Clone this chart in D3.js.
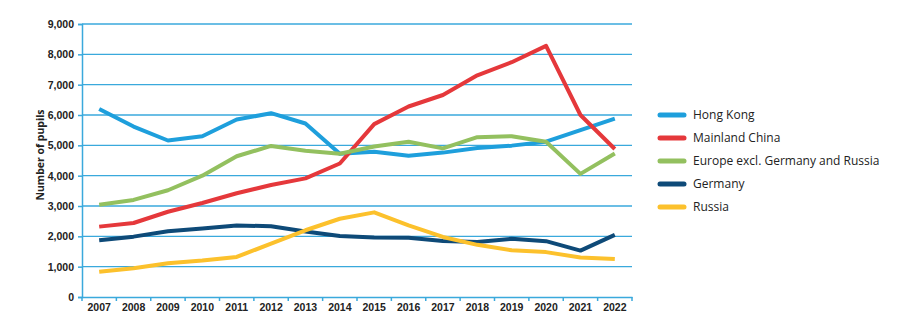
<!DOCTYPE html>
<html>
<head>
<meta charset="utf-8">
<script src="https://cdn.jsdelivr.net/npm/d3@7"></script>
<style>
  body { margin: 0; background: #fff; }
  svg { font-family: "Open Sans", "Liberation Sans", sans-serif; }
</style>
</head>
<body>
<div id="chart"></div>
<script>
// data
const years = ["2007","2008","2009","2010","2011","2012","2013","2014","2015","2016","2017","2018","2019","2020","2021","2022"];
const hongKong = [6200, 5620, 5160, 5300, 5850, 6060, 5720, 4720, 4790, 4660, 4760, 4910, 4990, 5120, 5500, 5880];
const mainlandChina = [2320, 2440, 2810, 3100, 3420, 3690, 3910, 4400, 5700, 6280, 6660, 7310, 7740, 8280, 6000, 4880];
const europe = [3040, 3200, 3520, 4000, 4640, 4980, 4820, 4720, 4960, 5120, 4900, 5270, 5300, 5120, 4060, 4730];
const germany = [1870, 1990, 2170, 2260, 2360, 2330, 2160, 2010, 1960, 1950, 1850, 1810, 1920, 1840, 1530, 2050];
const russia = [830, 950, 1110, 1200, 1320, 1760, 2200, 2580, 2790, 2360, 1980, 1720, 1540, 1480, 1300, 1250];
const seriesNames = ["Hong Kong", "Mainland China", "Europe excl. Germany and Russia", "Germany", "Russia"];
const seriesColors = ["#1e9fdc", "#e5383b", "#93c05f", "#0e4a78", "#fcc12c"];
const yTicks = [0, 1000, 2000, 3000, 4000, 5000, 6000, 7000, 8000, 9000];

const allSeries = [hongKong, mainlandChina, europe, germany, russia];

const margin = { top: 24, right: 268, bottom: 28, left: 82 },
  width = 900 - margin.left - margin.right,
  height = 325 - margin.top - margin.bottom;

const svg = d3.select("#chart")
  .append("svg")
  .attr("width", 900)
  .attr("height", 325)
  .append("g")
  .attr("transform", `translate(${margin.left},${margin.top})`);

const axisBlue = "#3aa9dc";

const x = d3.scaleBand().domain(years).range([0, width]).padding(0);
const y = d3.scaleLinear().domain([0, 9000]).range([height, 0]);

// gridlines
svg.append("g")
  .selectAll("line")
  .data(yTicks.filter(d => d > 0))
  .join("line")
  .attr("x1", 0)
  .attr("x2", width)
  .attr("y1", d => y(d))
  .attr("y2", d => y(d))
  .attr("stroke", axisBlue)
  .attr("stroke-width", 1.3);

// y axis
const yAxis = svg.append("g")
  .call(d3.axisLeft(y).tickValues(yTicks).tickFormat(d3.format(",")).tickSize(4).tickPadding(4));
yAxis.select(".domain").attr("stroke", axisBlue).attr("stroke-width", 1.5);
yAxis.selectAll(".tick line").attr("stroke", axisBlue).attr("stroke-width", 1.5);
yAxis.selectAll("text")
  .attr("font-size", 10.5)
  .attr("font-weight", "bold")
  .attr("fill", "#222");

// x axis, ticks between years
const xAxis = svg.append("g")
  .attr("transform", `translate(0,${height})`)
  .call(d3.axisBottom(x).tickSize(0).tickPadding(7));
xAxis.select(".domain").attr("stroke", axisBlue).attr("stroke-width", 1.5);
xAxis.selectAll("text")
  .attr("font-size", 10.5)
  .attr("font-weight", "bold")
  .attr("fill", "#222");
xAxis.selectAll("line.sep")
  .data(d3.range(years.length + 1))
  .join("line")
  .attr("class", "sep")
  .attr("x1", i => i * x.bandwidth())
  .attr("x2", i => i * x.bandwidth())
  .attr("y1", 0)
  .attr("y2", 4)
  .attr("stroke", axisBlue)
  .attr("stroke-width", 1.5);

// axis title
svg.append("text")
  .attr("transform", `translate(${-42},${131}) rotate(-90)`)
  .attr("text-anchor", "middle")
  .attr("dy", "0.35em")
  .attr("font-size", 10.5)
  .attr("font-weight", "bold")
  .attr("fill", "#222")
  .text("Number of pupils");

// lines
const line = d3.line()
  .x((d, i) => x(years[i]) + x.bandwidth() / 2)
  .y(d => y(d));

svg.append("g")
  .selectAll("path")
  .data(allSeries)
  .join("path")
  .attr("fill", "none")
  .attr("stroke", (d, i) => seriesColors[i])
  .attr("stroke-width", 4)
  .attr("stroke-linejoin", "round")
  .attr("d", line);

// legend
const legend = svg.append("g")
  .attr("transform", `translate(${659 - margin.left},${115 - margin.top})`)
  .selectAll("g")
  .data(seriesNames)
  .join("g")
  .attr("transform", (d, i) => `translate(0,${i * 23})`);

legend.append("line")
  .attr("x1", 1).attr("x2", 25)
  .attr("stroke", (d, i) => seriesColors[i])
  .attr("stroke-width", 5)
  .attr("stroke-linecap", "round");

legend.append("text")
  .attr("x", 34)
  .attr("dy", "0.35em")
  .attr("font-size", 12)
  .attr("fill", "#222")
  .text(d => d);
</script>
</body>
</html>
